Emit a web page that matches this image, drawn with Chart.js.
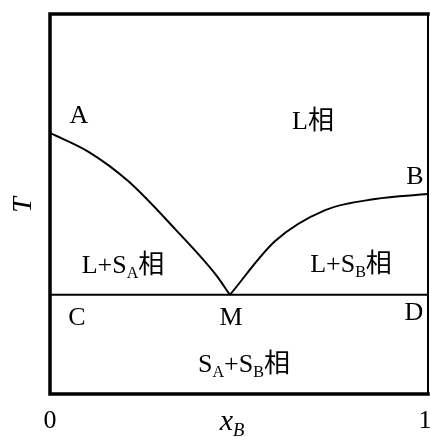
<!DOCTYPE html>
<html>
<head>
<meta charset="utf-8">
<title>Phase diagram</title>
<script src="https://cdn.jsdelivr.net/npm/chart.js@4"></script>
<style>
  body { margin: 0; background: #fff; }
  #chart { display: block; }
</style>
</head>
<body>
<canvas id="chart" width="430" height="437"></canvas>
<script>
// liquidus line from A down to the eutectic point M
const curveA_x = [0, 0.101, 0.206, 0.331, 0.437, 0.476];
const curveA_T = [0.687, 0.638, 0.561, 0.434, 0.316, 0.261];
// liquidus line from M up to B
const curveB_x = [0.476, 0.595, 0.728, 0.860, 1.0];
const curveB_T = [0.261, 0.402, 0.484, 0.513, 0.526];
// eutectic line C-M-D
const eutectic_x = [0, 1];
const eutectic_T = [0.261, 0.261];
const xTickLabels = ['0', '1'];

const SERIF = '"Liberation Serif", "Noto Sans CJK JP", serif';

function toPoints(xs, ys) {
    return xs.map((x, i) => ({ x: x, y: ys[i] }));
}

// draw text made of parts, some of them subscripts
function drawRich(ctx, parts, x, y, size, align, italic) {
    const style = italic ? 'italic ' : '';
    let total = 0;
    parts.forEach(p => {
        ctx.font = style + (p.sub ? size * 0.62 : size) + 'px ' + SERIF;
        p.w = ctx.measureText(p.t).width;
        total += p.w;
    });
    let cx = align === 'center' ? x - total / 2 : x;
    parts.forEach(p => {
        ctx.font = style + (p.sub ? size * 0.62 : size) + 'px ' + SERIF;
        ctx.fillText(p.t, cx, p.sub ? y + size * 0.2 : y);
        cx += p.w;
    });
}

const framePlugin = {
    id: 'frame',
    afterDatasetsDraw(chart) {
        const ctx = chart.ctx;
        const a = chart.chartArea;
        ctx.save();
        ctx.strokeStyle = '#000';
        ctx.lineCap = 'square';
        // thick left, top, bottom, thinner right
        ctx.lineWidth = 3.5;
        ctx.beginPath();
        ctx.moveTo(a.right, a.top);
        ctx.lineTo(a.left, a.top);
        ctx.lineTo(a.left, a.bottom);
        ctx.lineTo(a.right, a.bottom);
        ctx.stroke();
        ctx.lineWidth = 2;
        ctx.beginPath();
        ctx.moveTo(a.right, a.top);
        ctx.lineTo(a.right, a.bottom);
        ctx.stroke();

        ctx.fillStyle = '#000';
        ctx.textBaseline = 'alphabetic';
        ctx.textAlign = 'left';
        const fs = 26;

        // point labels
        drawRich(ctx, [{ t: 'A' }], 79, 123, fs, 'center');
        drawRich(ctx, [{ t: 'B' }], 415, 184, fs, 'center');
        drawRich(ctx, [{ t: 'C' }], 77, 325, fs, 'center');
        drawRich(ctx, [{ t: 'M' }], 231, 325, fs, 'center');
        drawRich(ctx, [{ t: 'D' }], 414, 320, fs, 'center');

        // phase region labels
        drawRich(ctx, [{ t: 'L相' }], 313, 129, fs, 'center');
        drawRich(ctx, [{ t: 'L+S' }, { t: 'A', sub: true }, { t: '相' }], 123, 273, fs, 'center');
        drawRich(ctx, [{ t: 'L+S' }, { t: 'B', sub: true }, { t: '相' }], 351, 272, fs, 'center');
        drawRich(ctx, [{ t: 'S' }, { t: 'A', sub: true }, { t: '+S' }, { t: 'B', sub: true }, { t: '相' }], 244, 372, fs, 'center');

        // axis tick labels and titles
        const xs = chart.scales.x;
        drawRich(ctx, [{ t: xTickLabels[0] }], xs.getPixelForValue(0), 428, fs, 'center');
        drawRich(ctx, [{ t: xTickLabels[1] }], xs.getPixelForValue(1) - 3, 428, fs, 'center');
        drawRich(ctx, [{ t: 'x' }, { t: 'B', sub: true }], 232, 430, 30, 'center', true);

        ctx.translate(31, 205);
        ctx.rotate(-Math.PI / 2);
        drawRich(ctx, [{ t: 'T' }], 0, 0, 28, 'center', true);
        ctx.restore();
    }
};

const lineStyle = {
    showLine: true,
    borderColor: '#000',
    borderWidth: 2,
    pointRadius: 0,
    fill: false
};

new Chart(document.getElementById('chart'), {
    type: 'scatter',
    data: {
        datasets: [
            Object.assign({ data: toPoints(curveA_x, curveA_T), cubicInterpolationMode: 'monotone' }, lineStyle),
            Object.assign({ data: toPoints(curveB_x, curveB_T), cubicInterpolationMode: 'monotone' }, lineStyle),
            Object.assign({ data: toPoints(eutectic_x, eutectic_T) }, lineStyle)
        ]
    },
    options: {
        responsive: false,
        animation: false,
        layout: {
            padding: { left: 50, right: 2, top: 14, bottom: 43 }
        },
        plugins: {
            legend: { display: false },
            tooltip: { enabled: false }
        },
        scales: {
            x: { type: 'linear', min: 0, max: 1, display: false },
            y: { type: 'linear', min: 0, max: 1, display: false }
        }
    },
    plugins: [framePlugin]
});
</script>
</body>
</html>
